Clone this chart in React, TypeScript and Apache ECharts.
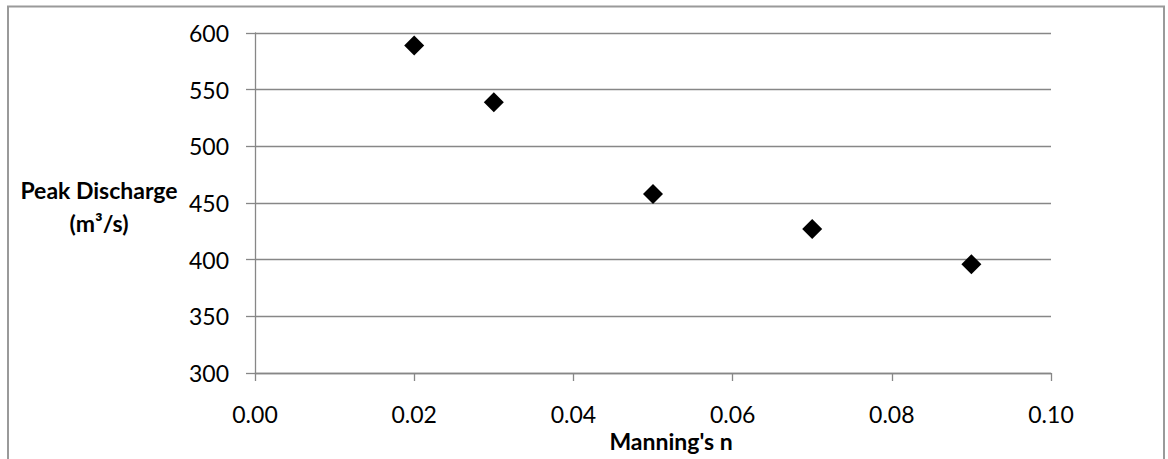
import React, { useEffect, useRef } from "react";
import * as echarts from "echarts";

const manningN = [0.02, 0.03, 0.05, 0.07, 0.09];
const peakDischarge = [589, 539, 458, 427, 396];
const yTitleLines = ["Peak Discharge", "(m³/s)"];
const xTitle = "Manning's n";

const FONT = "Lato, 'Open Sans', 'Liberation Sans', sans-serif";
const GRID_COLOR = "#878787";

export default function App() {
  const ref = useRef<HTMLDivElement>(null);
  useEffect(() => {
    if (!ref.current) return;
    const chart = echarts.init(ref.current, null, { renderer: "svg" });
    chart.setOption({
      animation: false,
      backgroundColor: "#ffffff",
      grid: { left: 255, right: 117, top: 33, bottom: 86, containLabel: false },
      xAxis: {
        type: "value",
        min: 0,
        max: 0.1,
        interval: 0.02,
        axisLine: { show: true, lineStyle: { color: GRID_COLOR, width: 1.3 } },
        axisTick: { show: true, inside: false, length: 8, lineStyle: { color: GRID_COLOR, width: 1.3 } },
        splitLine: { show: false },
        axisLabel: {
          margin: 29,
          color: "#000",
          fontFamily: FONT,
          fontSize: 23,
          formatter: (v: number) => v.toFixed(2),
        },
      },
      yAxis: {
        type: "value",
        min: 300,
        max: 600,
        interval: 50,
        axisLine: { show: true, lineStyle: { color: GRID_COLOR, width: 1.3 } },
        axisTick: { show: true, inside: false, length: 9, lineStyle: { color: GRID_COLOR, width: 1.3 } },
        splitLine: { show: true, lineStyle: { color: GRID_COLOR, width: 1.3 } },
        axisLabel: {
          margin: 26,
          color: "#000",
          fontFamily: FONT,
          fontSize: 23,
        },
      },
      series: [
        {
          type: "scatter",
          data: manningN.map((x, i) => [x, peakDischarge[i]]),
          symbol: "diamond",
          symbolSize: 20,
          itemStyle: { color: "#000", opacity: 1 },
        },
      ],
      graphic: [
        {
          type: "rect",
          silent: true,
          shape: { x: 8, y: 6.5, width: 1156, height: 470 },
          style: { fill: "none", stroke: "#9a9a9a", lineWidth: 2 },
        },
        {
          type: "text",
          x: 99,
          y: 190,
          style: {
            text: yTitleLines[0],
            fontFamily: FONT,
            fontWeight: "bold",
            fontSize: 23,
            fill: "#000",
            textAlign: "center",
            textVerticalAlign: "middle",
          },
        },
        {
          type: "text",
          x: 99,
          y: 223,
          style: {
            text: yTitleLines[1],
            fontFamily: FONT,
            fontWeight: "bold",
            fontSize: 23,
            fill: "#000",
            textAlign: "center",
            textVerticalAlign: "middle",
          },
        },
        {
          type: "text",
          x: 671,
          y: 441,
          style: {
            text: xTitle,
            fontFamily: FONT,
            fontWeight: "bold",
            fontSize: 23,
            fill: "#000",
            textAlign: "center",
            textVerticalAlign: "middle",
          },
        },
      ],
    });
    return () => chart.dispose();
  }, []);
  return (
    <div
      ref={ref}
      style={{ position: "fixed", left: 0, top: 0, width: 1168, height: 459 }}
    />
  );
}
